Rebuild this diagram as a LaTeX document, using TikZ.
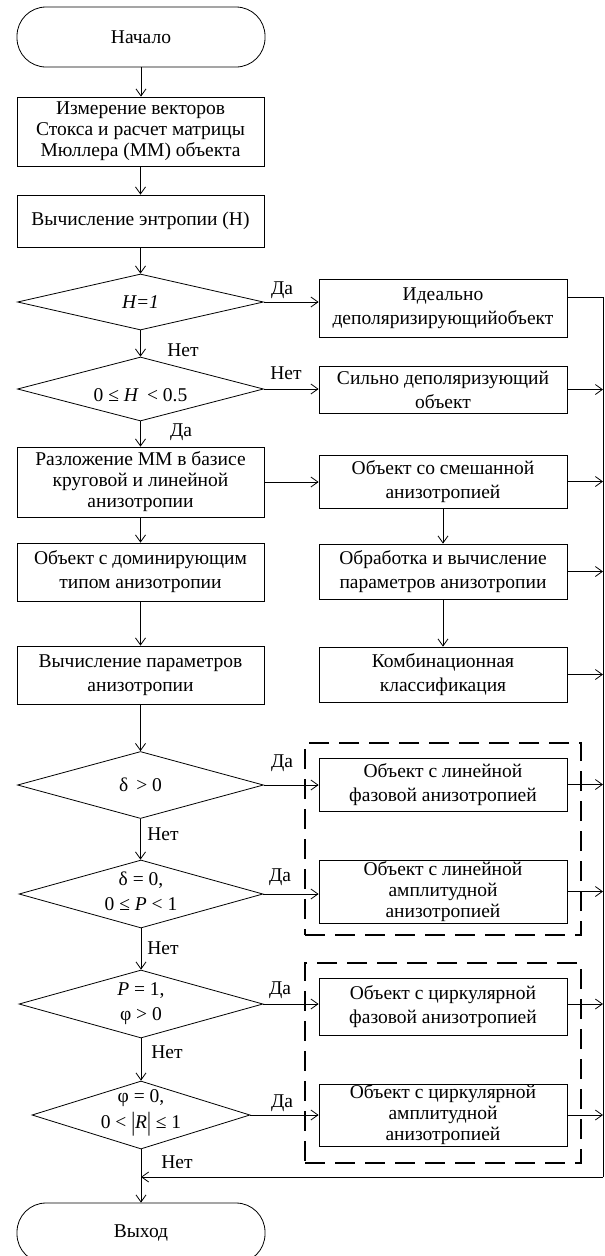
\documentclass[tikz,border=0pt]{standalone}
\usepackage{fontspec}
\setmainfont{Liberation Serif}
\usetikzlibrary{arrows.meta,shapes.geometric,calc}
\begin{document}
\begin{tikzpicture}[x=1pt,y=-1pt,
  font=\fontsize{19.5}{21}\selectfont,
  arr/.style={-{Straight Barb[length=7pt,width=10pt]}, line width=0.8pt},
  ln/.style={line width=0.8pt},
  box/.style={draw, line width=0.8pt, rectangle, inner sep=0pt, align=center},
  lbox/.style={box, minimum width=247pt},
  rbox/.style={box, minimum width=248pt},
  two/.style={font=\fontsize{19.5}{24}\selectfont},
  term/.style={draw, line width=0.8pt, rounded corners=29pt, inner sep=0pt, minimum width=248pt, minimum height=60pt},
  dec/.style={draw, diamond, line width=0.8pt, inner sep=0pt},
  lbl/.style={inner sep=0pt},
  grp/.style={draw, line width=2.5pt, dash pattern=on 20pt off 10pt, inner sep=0pt},
]
\useasboundingbox (0,0) rectangle (605,1256);
\clip (0,0) rectangle (605,1256);

% left column
\node[term] (start) at (141,37) {Начало};
\node[lbox, minimum height=69pt] (b1) at (140.5,131.5) {Измерение векторов\\Стокса и расчет матрицы\\Мюллера (ММ) объекта};
\node[lbox, minimum height=52pt] (b2) at (140.5,221) {Вычисление энтропии (Н)};
\node[dec, minimum width=246pt, minimum height=56pt] (d1) at (140.5,302) {};
\node[lbl] (t1) at (d1) {\textit{H=1}};
\node[dec, minimum width=246pt, minimum height=64pt] (d2) at (140.5,389) {};
\node[lbl] (t2) at (140.5,395) {0 ≤ \textit{H}\, < 0.5};
\node[lbox, minimum height=70pt] (b4) at (140.5,482) {Разложение ММ в базисе\\круговой и линейной\\анизотропии};
\node[lbox, two, minimum height=58pt] (b5) at (140.5,572) {Объект с доминирующим\\типом анизотропии};
\node[lbox, two, minimum height=58pt] (b6) at (140.5,675) {Вычисление параметров\\анизотропии};
\node[dec, minimum width=246pt, minimum height=67pt] (d3) at (140.5,785) {};
\node[lbl] (t3) at (d3) {δ \,> 0};
\node[dec, minimum width=244pt, minimum height=68pt] (d4) at (141,894) {};
\node[lbl, align=center, font=\fontsize{19.5}{25}\selectfont] (t4) at (141,891) {δ = 0,\\0 ≤ \textit{P} < 1};
\node[dec, minimum width=244pt, minimum height=68pt] (d5) at (141,1004) {};
\node[lbl, align=center, font=\fontsize{19.5}{25}\selectfont] (t5) at (141,1004) {\textit{P} = 1,\\φ > 0};
\node[dec, minimum width=218pt, minimum height=68pt] (d6) at (141,1115) {};
\node[lbl, align=center, font=\fontsize{19.5}{26}\selectfont] (t6) at (141,1113) {φ = 0,\\0 < \raisebox{-2pt}{\scalebox{1}[1.35]{|}}\textit{R}\raisebox{-2pt}{\scalebox{1}[1.35]{|}} ≤ 1};
\node[term] (end) at (141,1233) {Выход};

% right column
\node[rbox, two, minimum height=58pt] (r1) at (443,308) {Идеально\\деполяризирующийобъект};
\node[rbox, two, minimum height=47pt] (r2) at (443,389.5) {Сильно деполяризующий\\объект};
\node[rbox, two, minimum height=53pt] (r3) at (443,481.5) {Объект со смешанной\\анизотропией};
\node[rbox, two, minimum height=55pt] (r4) at (443,571.5) {Обработка и вычисление\\параметров анизотропии};
\node[rbox, two, minimum height=55pt] (r5) at (443,674.5) {Комбинационная\\классификация};
\node[rbox, two, minimum height=53pt] (r6) at (443,784.5) {Объект с линейной\\фазовой анизотропией};
\node[rbox, minimum height=63pt] (r7) at (443,891.5) {Объект с линейной\\амплитудной\\анизотропией};
\node[rbox, two, minimum height=57pt] (r8) at (443,1006.5) {Объект с циркулярной\\фазовой анизотропией};
\node[rbox, minimum height=62pt] (r9) at (443,1115) {Объект с циркулярной\\амплитудной\\анизотропией};

% dashed groups
\node[grp, minimum width=276pt, minimum height=192pt] (g1) at (443,839) {};
\node[grp, minimum width=276pt, minimum height=200pt] (g2) at (443,1063) {};

% collector line
\coordinate (vtop) at (603,297);
\coordinate (vbot) at (603,1177);

% labels
\node[lbl] (l1) at (282,290) {Да};
\node[lbl] (l2) at (183,350) {Нет};
\node[lbl] (l3) at (286,373) {Нет};
\node[lbl] (l4) at (181,432) {Да};
\node[lbl] (l5) at (282,763) {Да};
\node[lbl] (l6) at (163,834) {Нет};
\node[lbl] (l7) at (280,877) {Да};
\node[lbl] (l8) at (163,948) {Нет};
\node[lbl] (l9) at (280,990) {Да};
\node[lbl] (l10) at (167,1052) {Нет};
\node[lbl] (l11) at (282,1103) {Да};
\node[lbl] (l12) at (177,1162) {Нет};

% main flow
\draw[arr] (start.south) -- (start.south |- b1.north);
\draw[arr] (b1.south) -- (b1.south |- b2.north);
\draw[arr] (b2.south) -- (b2.south |- d1.north);
\draw[arr] (d1.south) -- (d2.north);
\draw[arr] (d2.south) -- (d2.south |- b4.north);
\draw[arr] (b4.south) -- (b5.north);
\draw[arr] (b5.south) -- (b6.north);
\draw[arr] (b6.south) -- (b6.south |- d3.north);
\draw[arr] (d3.south) -- (d3.south |- d4.north);
\draw[arr] (d4.south) -- (d5.north);
\draw[arr] (d5.south) -- (d6.north);
\draw[arr] (d6.south) -- (end.north);

% branches to right
\draw[arr] (d1.east) -- (d1.east -| r1.west);
\draw[arr] (d2.east) -- (d2.east -| r2.west);
\draw[arr] (b4.east) -- (b4.east -| r3.west);
\draw[arr] (d3.east) -- (d3.east -| r6.west);
\draw[arr] (d4.east) -- (d4.east -| r7.west);
\draw[arr] (d5.east) -- (d5.east -| r8.west);
\draw[arr] (d6.east) -- (d6.east -| r9.west);
\draw[arr] (r3.south) -- (r4.north);
\draw[arr] (r4.south) -- (r5.north);

% collector
\draw[ln] (vtop -| r1.east) -- (vtop) -- (vbot);
\draw[arr] (r2.east) -- (r2.east -| vtop);
\draw[arr] (r3.east) -- (r3.east -| vtop);
\draw[arr] (r4.east) -- (r4.east -| vtop);
\draw[arr] (r5.east) -- (r5.east -| vtop);
\draw[arr] (r6.east) -- (r6.east -| vtop);
\draw[arr] (r7.east) -- (r7.east -| vtop);
\draw[arr] (d5.east -| r8.east) -- (d5.east -| vtop);
\draw[arr] (r9.east) -- (r9.east -| vtop);
\draw[arr] (vbot) -- (vbot -| d6.south);
\end{tikzpicture}
\end{document}
